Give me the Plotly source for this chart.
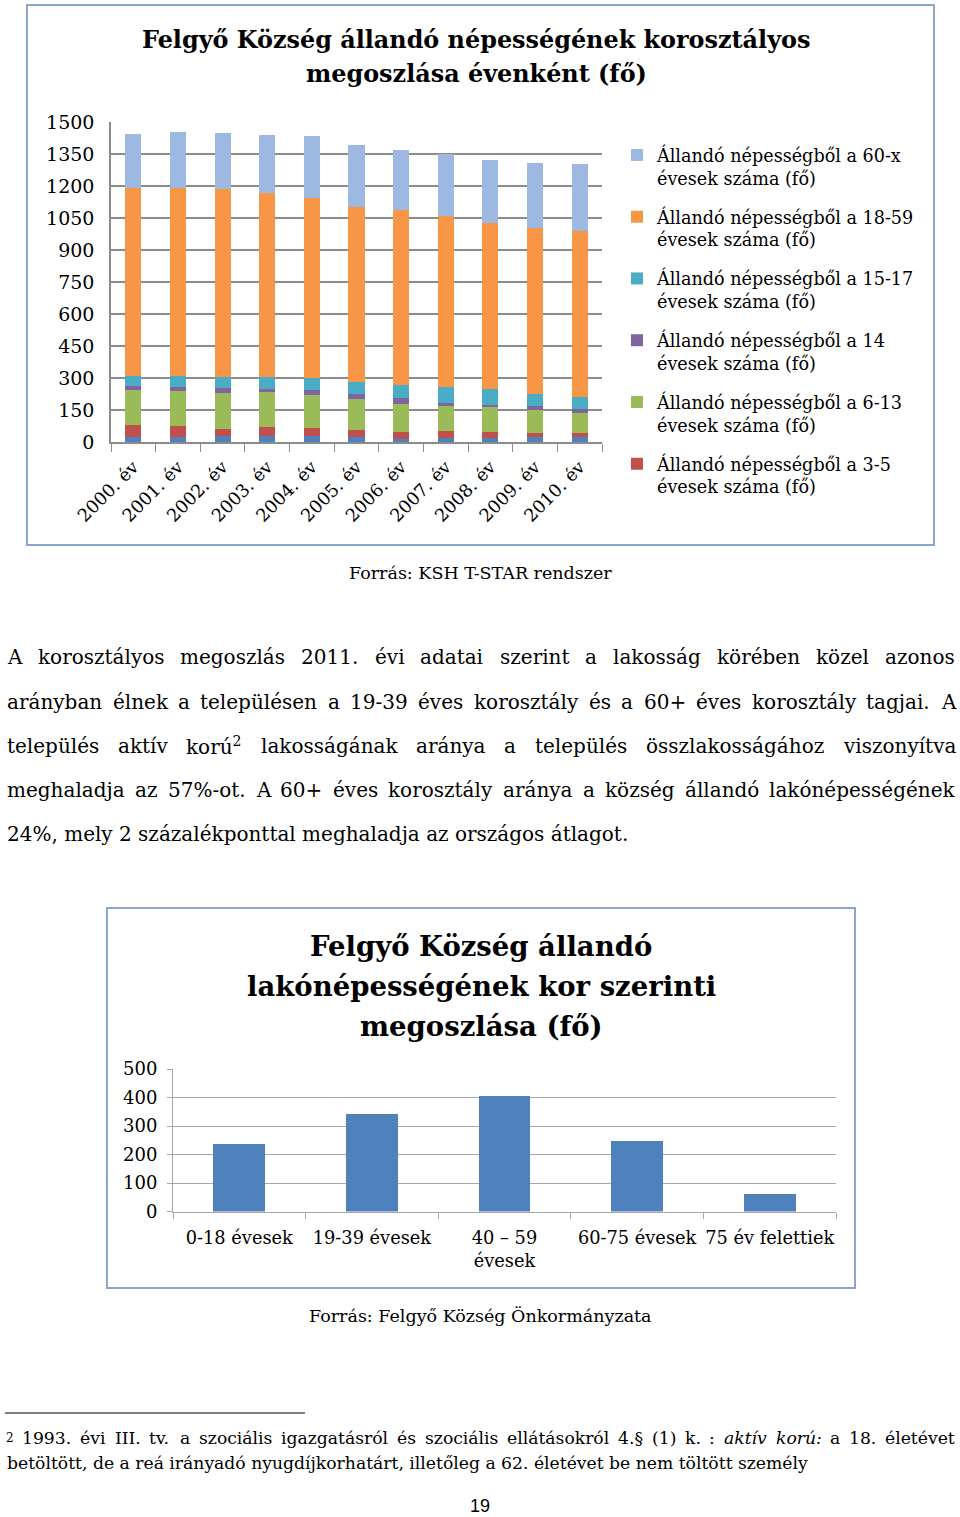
import glob
import os
import re
import struct

import plotly.graph_objects as go

W, H = 960, 1517
SERIF = "DejaVu Serif"

# ---------------- data: chart 1 (stacked, by year) ----------------
years = ["2000. év", "2001. év", "2002. év", "2003. év", "2004. év", "2005. év",
         "2006. év", "2007. év", "2008. év", "2009. év", "2010. év"]
age_0_2 = [25, 25, 28, 28, 28, 22, 16, 19, 19, 22, 22]
age_3_5 = [54, 49, 35, 40, 38, 33, 30, 31, 27, 20, 20]
age_6_13 = [163, 166, 168, 166, 156, 145, 133, 117, 117, 106, 92]
age_14 = [19, 19, 20, 16, 23, 23, 28, 18, 10, 23, 22]
age_15_17 = [47, 49, 54, 55, 55, 60, 62, 74, 75, 55, 55]
age_18_59 = [884, 881, 879, 861, 845, 818, 817, 800, 778, 776, 779]
age_60_x = [252, 263, 264, 273, 288, 289, 285, 292, 295, 305, 314]

series_names = [
    "Állandó népességből a 0-2<br>évesek száma (fő)",
    "Állandó népességből a 3-5<br>évesek száma (fő)",
    "Állandó népességből a 6-13<br>évesek száma (fő)",
    "Állandó népességből a 14<br>évesek száma (fő)",
    "Állandó népességből a 15-17<br>évesek száma (fő)",
    "Állandó népességből a 18-59<br>évesek száma (fő)",
    "Állandó népességből a 60-x<br>évesek száma (fő)",
]
series_values = [age_0_2, age_3_5, age_6_13, age_14, age_15_17, age_18_59, age_60_x]
series_colors = ["#4F81BD", "#C0504D", "#9BBB59", "#8064A2", "#4BACC6", "#F79646", "#9DB9E2"]
y1_ticks = [0, 150, 300, 450, 600, 750, 900, 1050, 1200, 1350, 1500]

# ---------------- data: chart 2 (age groups) ----------------
age_groups = ["0-18 évesek", "19-39 évesek", "40 – 59<br>évesek", "60-75 évesek", "75 év felettiek"]
age_counts = [237, 341, 404, 249, 62]
y2_ticks = [0, 100, 200, 300, 400, 500]

# ---------------- page text ----------------
paragraph_lines = [
    "A korosztályos megoszlás 2011. évi adatai szerint a lakosság körében közel azonos",
    "arányban élnek a településen a 19-39 éves korosztály és a 60+ éves korosztály tagjai. A",
    "település aktív korú<sup>2</sup> lakosságának aránya a település összlakosságához viszonyítva",
    "meghaladja az 57%-ot. A 60+ éves korosztály aránya a község állandó lakónépességének",
    "24%, mely 2 százalékponttal meghaladja az országos átlagot.",
]
footnote_lines = [
    "<sup>2</sup> 1993. évi III. tv. a szociális igazgatásról és szociális ellátásokról 4.§ (1) k. : "
    "<i>aktív</i> <i>korú:</i> a 18. életévet",
    "betöltött, de a reá irányadó nyugdíjkorhatárt, illetőleg a 62. életévet be nem töltött személy",
]


# ---------------- font metrics (for justified text layout) ----------------
class FontMetrics:
    def __init__(self, path):
        self.ok = False
        try:
            data = open(path, "rb").read()
            ntab = struct.unpack(">H", data[4:6])[0]
            tabs = {}
            for i in range(ntab):
                rec = data[12 + 16 * i: 28 + 16 * i]
                tabs[rec[:4].decode("latin-1")] = struct.unpack(">II", rec[8:16])
            ho = tabs["head"][0]
            self.upem = struct.unpack(">H", data[ho + 18: ho + 20])[0]
            hh = tabs["hhea"][0]
            nhm = struct.unpack(">H", data[hh + 34: hh + 36])[0]
            mo = tabs["hmtx"][0]
            self.adv = [struct.unpack(">H", data[mo + 4 * i: mo + 4 * i + 2])[0] for i in range(nhm)]
            co = tabs["cmap"][0]
            nsub = struct.unpack(">H", data[co + 2: co + 4])[0]
            best = None
            for i in range(nsub):
                pid, eid, so = struct.unpack(">HHI", data[co + 4 + 8 * i: co + 12 + 8 * i])
                fmt = struct.unpack(">H", data[co + so: co + so + 2])[0]
                if pid == 3 and eid == 10 and fmt == 12:
                    best = (12, co + so)
                elif pid == 3 and eid == 1 and fmt == 4 and (best is None or best[0] != 12):
                    best = (4, co + so)
            self.cmap = {}
            fmt, o = best
            if fmt == 4:
                segx2 = struct.unpack(">H", data[o + 6: o + 8])[0]
                ends = o + 14
                starts = ends + segx2 + 2
                deltas = starts + segx2
                ros = deltas + segx2
                for s in range(segx2 // 2):
                    end = struct.unpack(">H", data[ends + 2 * s: ends + 2 * s + 2])[0]
                    start = struct.unpack(">H", data[starts + 2 * s: starts + 2 * s + 2])[0]
                    delta = struct.unpack(">h", data[deltas + 2 * s: deltas + 2 * s + 2])[0]
                    ro = struct.unpack(">H", data[ros + 2 * s: ros + 2 * s + 2])[0]
                    for c in range(start, end + 1):
                        if c == 0xFFFF:
                            continue
                        if ro == 0:
                            g = (c + delta) & 0xFFFF
                        else:
                            a = ros + 2 * s + ro + 2 * (c - start)
                            g = struct.unpack(">H", data[a: a + 2])[0]
                            if g:
                                g = (g + delta) & 0xFFFF
                        self.cmap[c] = g
            else:
                ng = struct.unpack(">I", data[o + 12: o + 16])[0]
                for k in range(ng):
                    st, en, sg = struct.unpack(">III", data[o + 16 + 12 * k: o + 28 + 12 * k])
                    for c in range(st, min(en, 0x2FFFF) + 1):
                        self.cmap[c] = sg + c - st
            self.ok = True
        except Exception:
            self.ok = False

    def width(self, s, size):
        if not self.ok:
            return 0.56 * size * len(s)
        tot = 0
        for ch in s:
            g = self.cmap.get(ord(ch), 0)
            tot += self.adv[min(g, len(self.adv) - 1)]
        return tot * size / self.upem


def find_font(fname):
    for root in ["/usr/share/fonts", "/usr/local/share/fonts", os.path.expanduser("~/.fonts")]:
        hits = glob.glob(os.path.join(root, "**", fname), recursive=True)
        if hits:
            return hits[0]
    return None


_reg = find_font("DejaVuSerif.ttf")
_ita = find_font("DejaVuSerif-Italic.ttf")
FM = FontMetrics(_reg) if _reg else FontMetrics("")
FMI = FontMetrics(_ita) if _ita else FM


def word_width(w, size):
    tot = 0.0
    for m in re.finditer(r"<sup>(.*?)</sup>|<i>(.*?)</i>|([^<]+)", w):
        if m.group(1) is not None:
            tot += FM.width(m.group(1), size * 0.7)
        elif m.group(2) is not None:
            tot += (FMI if FMI.ok else FM).width(m.group(2), size)
        else:
            tot += FM.width(m.group(3), size)
    return tot


def px(x):
    return x / W


def py(y):
    return 1 - y / H


fig = go.Figure()

n = len(series_names)
for i, (name, vals, col) in enumerate(zip(series_names, series_values, series_colors)):
    fig.add_trace(go.Bar(
        x=years, y=vals, name=name, marker=dict(color=col, line=dict(width=0)),
        xaxis="x", yaxis="y", legendgroup=f"g{i}", legendrank=n - i,
        showlegend=(i > 0),
    ))

fig.add_trace(go.Bar(
    x=age_groups, y=age_counts, marker=dict(color="#4F81BD", line=dict(width=0)),
    xaxis="x2", yaxis="y2", showlegend=False, width=0.39,
))

grid1 = "#8C8C8C"
grid2 = "#A6A6A6"
fig.update_layout(
    width=W, height=H, margin=dict(l=0, r=0, t=0, b=0, autoexpand=False),
    paper_bgcolor="white", plot_bgcolor="rgba(0,0,0,0)",
    barmode="stack", bargap=0.64,
    font=dict(family=SERIF, color="black"),
    xaxis=dict(domain=[px(111), px(602)], anchor="y", showgrid=False,
               showline=True, linecolor=grid1, linewidth=1.5,
               ticks="outside", tickson="boundaries", ticklen=8, tickcolor=grid1,
               tickangle=-45, tickfont=dict(size=17.8, family=SERIF),
               ticklabelstandoff=6),
    yaxis=dict(domain=[py(442), py(122)], anchor="x", range=[0, 1500],
               tickvals=y1_ticks, showgrid=True, gridcolor=grid1, gridwidth=1.5,
               showline=True, linecolor=grid1, linewidth=1.5, zeroline=False,
               ticks="", tickfont=dict(size=19, family=SERIF), ticklabelstandoff=11),
    xaxis2=dict(domain=[px(173), px(836)], anchor="y2", showgrid=False,
                showline=True, linecolor=grid2, linewidth=1,
                ticks="outside", tickson="boundaries", ticklen=6, tickcolor=grid2,
                tickangle=0, tickfont=dict(size=17.8, family=SERIF),
                ticklabelstandoff=10),
    yaxis2=dict(domain=[py(1211.5), py(1069)], anchor="x2", range=[0, 500],
                tickvals=y2_ticks, showgrid=True, gridcolor=grid2, gridwidth=1,
                showline=True, linecolor=grid2, linewidth=1, zeroline=False,
                ticks="outside", ticklen=5, tickcolor=grid2,
                tickfont=dict(size=18, family=SERIF), ticklabelstandoff=6),
    legend=dict(x=px(617), y=py(137), xanchor="left", yanchor="top",
                traceorder="grouped", tracegroupgap=13, valign="top",
                font=dict(size=17.6, family=SERIF), itemwidth=30,
                bgcolor="rgba(0,0,0,0)"),
)

shapes = []
shapes.append(dict(type="rect", xref="paper", yref="paper", x0=px(27), x1=px(934),
                   y0=py(545), y1=py(5), line=dict(color="#8BA6CC", width=2)))
shapes.append(dict(type="rect", xref="paper", yref="paper", x0=px(107), x1=px(855),
                   y0=py(1288), y1=py(908), line=dict(color="#8BA6CC", width=2)))
shapes.append(dict(type="line", xref="paper", yref="paper", x0=px(5), x1=px(305),
                   y0=py(1413), y1=py(1413), line=dict(color="black", width=1)))
fig.update_layout(shapes=shapes)

ann = []


def text(x, y, s, size, anchor="left", bold=False, family=SERIF):
    ann.append(dict(xref="paper", yref="paper", x=px(x), y=py(y), text=s,
                    showarrow=False, xanchor=anchor, yanchor="middle",
                    font=dict(size=size, family=family, color="black",
                              weight="bold" if bold else "normal"),
                    align="center"))


def justified(line, y, size, x0=5, x1=953):
    words = line.split(" ")
    widths = [word_width(w, size) for w in words]
    gap = (x1 - x0 - sum(widths)) / (len(words) - 1)
    gap = max(gap, FM.width(" ", size) * 0.6)
    x = x0
    for w, wd in zip(words, widths):
        text(x, y, w, size)
        x += wd + gap


# chart titles
text(476, 40, "Felgyő Község állandó népességének korosztályos", 23.9, "center", True)
text(476, 74, "megoszlása évenként (fő)", 23.9, "center", True)
text(481, 946, "Felgyő Község állandó", 27.5, "center", True)
text(481, 986, "lakónépességének kor szerinti", 27.5, "center", True)
text(481, 1026, "megoszlása (fő)", 27.5, "center", True)

# sources
text(480, 573, "Forrás: KSH T-STAR rendszer", 17.5, "center")
text(480, 1316, "Forrás: Felgyő Község Önkormányzata", 17.5, "center")

# paragraph (justified, last line left aligned)
para_y = [657, 701.5, 746, 790, 834]
PSIZE = 20
for k, (line, yy) in enumerate(zip(paragraph_lines, para_y)):
    if k < len(paragraph_lines) - 1:
        justified(line, yy, PSIZE)
    else:
        text(5, yy, line, PSIZE)

# footnote
FSIZE = 17.2
justified(footnote_lines[0], 1438, FSIZE, x0=4)
text(5, 1463, footnote_lines[1], FSIZE)

# page number
text(480, 1506, "19", 18, "center", family="Liberation Sans")

fig.update_layout(annotations=ann)
fig.write_html("out.html")
